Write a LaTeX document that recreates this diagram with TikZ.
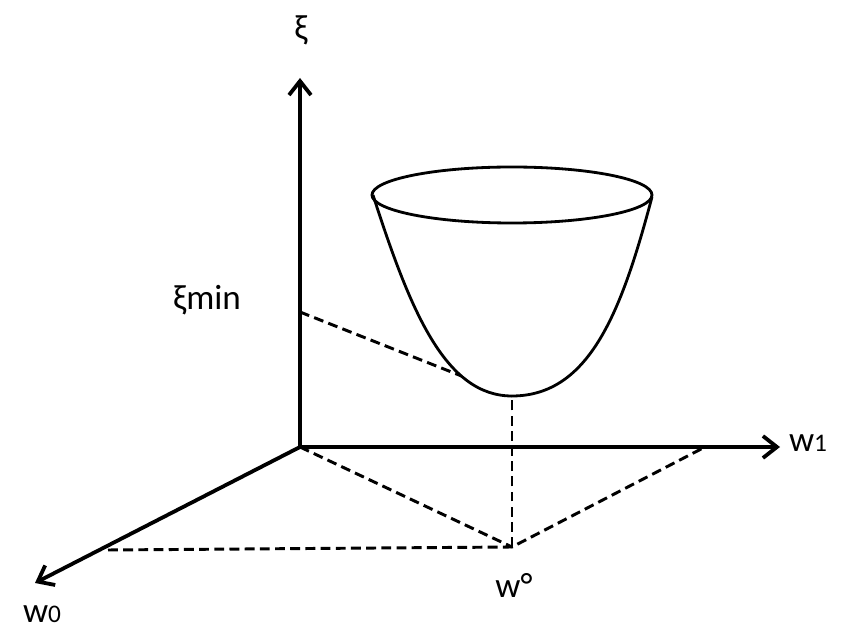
\documentclass[tikz,border=0pt]{standalone}
\usepackage{fontspec}
\setmainfont{Carlito}
\usetikzlibrary{arrows.meta}

\begin{document}
\begin{tikzpicture}[
  x=0.025cm, y=-0.025cm,
  axis/.style={-{Straight Barb[length=3.5mm,width=5.5mm]}, line width=2.7pt},
  guide/.style={dash pattern=on 7pt off 3.8pt, line width=2.1pt},
  bowl/.style={line width=2pt},
  lbl/.style={inner sep=0pt, font=\fontsize{25}{25}\selectfont},
  sub/.style={font=\fontsize{18}{18}\selectfont}
]
\useasboundingbox (0,0) rectangle (850,635);
% axes and points
\coordinate (o) at (300,447);
\coordinate (xi) at (300,78);
\coordinate (w1) at (780,447);
\coordinate (w0) at (35,583);
\coordinate (wopt) at (512,547);
\coordinate (p1) at (705,447);
\coordinate (p0) at (108,550);
\coordinate (ximin) at (300,312);
\coordinate (bot) at (512,396);
\coordinate (rl) at (373,195);
\coordinate (rr) at (652,197);
\coordinate (rim) at (512,195);
% dashed guides
\draw[guide] (o) -- (wopt);
\draw[guide] (p0) -- (wopt) -- (p1);
\draw[guide] (wopt) -- (bot);
\draw[guide] (ximin) -- (bot);
% bowl
\draw[bowl, fill=white] (rl) .. controls (410,310) and (445,396) .. (bot) .. controls (590,396) and (622,310) .. (rr);
\draw[bowl] (rim) ellipse [x radius=140, y radius=28];
% axes
\draw[axis] (o) -- (xi);
\draw[axis] (o) -- (w1);
\draw[axis] (o) -- (w0);
% labels
\node[lbl] (lxi) at (301,30) {ξ};
\node[lbl] (lximin) at (207,300) {ξmin};
\node[lbl] (lw1) at (808,443) {w{\fontsize{18}{18}\selectfont 1}};
\node[lbl] (lw0) at (42,614) {w{\fontsize{18}{18}\selectfont 0}};
\node[lbl] (lwopt) at (514,585) {w°};
\end{tikzpicture}
\end{document}
